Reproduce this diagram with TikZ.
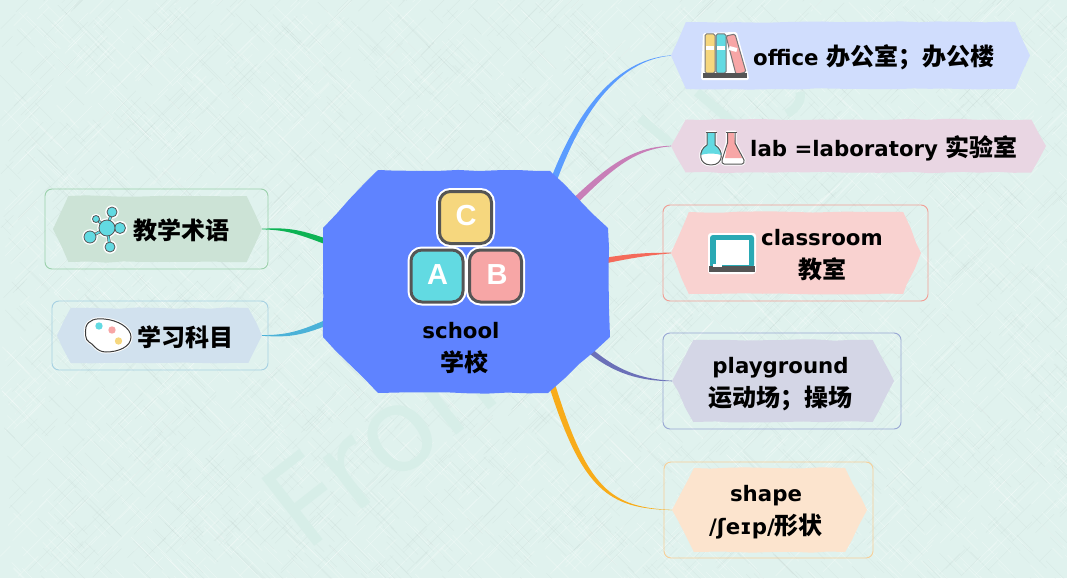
\documentclass[tikz,border=0pt]{standalone}
\usepackage{fontspec}
\setmainfont{DejaVu Sans}
\newfontfamily\cjk{Noto Sans CJK SC}
\newfontfamily\wmfont{Noto Sans}
\newfontfamily\blkfont{Liberation Sans}
\usetikzlibrary{calc,shapes.symbols,decorations.pathmorphing}
\pgfdeclarelayer{bg}\pgfdeclarelayer{links}\pgfsetlayers{bg,links,main}
\newcommand{\zh}[1]{{\cjk\fontsize{24}{33}\selectfont\bfseries #1}}
\definecolor{paper}{HTML}{E0F2EE}
\definecolor{mark}{HTML}{D7EEE8}
\definecolor{hubc}{HTML}{5F83FF}
\definecolor{icyan}{HTML}{62DAE2}
\definecolor{iyel}{HTML}{F6D77E}
\definecolor{ipink}{HTML}{F7A6A6}
\definecolor{idark}{HTML}{555555}
\definecolor{iteal}{HTML}{2AA9B4}
\definecolor{frclass}{HTML}{F58F85}
\definecolor{frplay}{HTML}{8C9AD0}
\definecolor{frshape}{HTML}{FBC98A}
\definecolor{frterm}{HTML}{8FCBA0}
\definecolor{frsubj}{HTML}{9DCBE0}
\definecolor{hxoffice}{HTML}{D0DDFD}
\definecolor{hxlab}{HTML}{E9D6E3}
\definecolor{hxclass}{HTML}{F9D2D0}
\definecolor{hxplay}{HTML}{D4D6E6}
\definecolor{hxshape}{HTML}{FCE4CE}
\definecolor{hxterm}{HTML}{CCE3D6}
\definecolor{hxsubj}{HTML}{D1E1EE}
\definecolor{lkoffice}{HTML}{5B9CFF}
\definecolor{lklab}{HTML}{C87FB8}
\definecolor{lkclass}{HTML}{F46A5A}
\definecolor{lkplay}{HTML}{6B70B8}
\definecolor{lkshape}{HTML}{F8AC1A}
\definecolor{lkterm}{HTML}{0CB354}
\definecolor{lksubj}{HTML}{4BB2D8}
\tikzset{
  wob/.style={decorate,decoration={random steps,segment length=17pt,amplitude=.7pt}},
  hex/.style n args={4}{signal,signal to=east and west,signal from=nowhere,signal pointer angle=#1,
     minimum width=#2,minimum height=#3,fill=#4,inner sep=0pt,outer sep=0pt,wob},
  frame/.style n args={3}{rectangle,draw=#3,line width=.9pt,rounded corners=7pt,minimum width=#1,
     minimum height=#2,inner sep=0pt,outer sep=0pt,opacity=.85},
  label/.style={font=\fontsize{21.3}{33}\selectfont\bfseries,inner sep=0pt,align=center,text=black},
  blocktx/.style={font=\blkfont\fontsize{29}{29}\selectfont\bfseries,text=white,inner sep=0pt},
  block/.style={rectangle,rounded corners=11pt,draw=idark,line width=3pt,fill=#1,minimum size=52pt,inner sep=0pt,
     preaction={draw=white,line width=7pt}},
  halo/.style={draw=white,line width=3pt,line join=round},
  ink/.style={draw=idark,line width=1pt,line join=round},
  markstroke/.style={draw=mark,line width=9pt}
}
% tapered connector: colour, start, control 1, control 2, end, half-width vector
\newcommand{\taper}[6]{%
  \fill[#1] ($(#2)+(#6)$) .. controls ($(#3)+0.8*(#6)$) and ($(#4)+0.4*(#6)$) .. ($(#5)+0.12*(#6)$)
     -- ($(#5)-0.12*(#6)$) .. controls ($(#4)-0.4*(#6)$) and ($(#3)-0.8*(#6)$) .. ($(#2)-(#6)$) -- cycle;}
\begin{document}
\begin{tikzpicture}[x=1pt,y=-1pt]
\useasboundingbox (0,0) rectangle (1067,578);
\begin{pgfonlayer}{bg}
\fill[paper] (0,0) rectangle (1067,578);
\begin{scope}
\clip (0,0) rectangle (1067,578);
\pgfmathsetseed{7}
\foreach \i in {1,...,1300}{
  \pgfmathsetmacro\px{rnd*1067}\pgfmathsetmacro\py{rnd*578}\pgfmathsetmacro\pl{8+rnd*24}
  \draw[white,opacity=.35,line width=.5pt] (\px,\py) -- ++(\pl,\pl);
  \pgfmathsetmacro\qx{rnd*1067}\pgfmathsetmacro\qy{rnd*578}\pgfmathsetmacro\ql{8+rnd*24}
  \draw[white,opacity=.35,line width=.5pt] (\qx,\qy) -- ++(\ql,-\ql);
  \pgfmathsetmacro\rx{rnd*1067}\pgfmathsetmacro\ry{rnd*578}\pgfmathsetmacro\rl{8+rnd*24}
  \draw[black!60!paper,opacity=.05,line width=.5pt] (\rx,\ry) -- ++(\rl,\rl);
  \pgfmathsetmacro\sx{rnd*1067}\pgfmathsetmacro\sy{rnd*578}\pgfmathsetmacro\sl{8+rnd*24}
  \draw[black!60!paper,opacity=.05,line width=.5pt] (\sx,\sy) -- ++(\sl,-\sl);
}
\end{scope}
\node[rotate=38,anchor=base west,inner sep=0pt,text=mark,font=\wmfont\fontsize{120}{120}\selectfont] (wm) at (305,554) {From};
\draw[markstroke] (697,92) -- (733,123);
\draw[markstroke] (640,118) -- (672,145);
\draw[markstroke] (800,92) .. controls (802,100) and (797,108) .. (787,114);
\end{pgfonlayer}

% frames
\node[frame={265pt}{96pt}{frclass}] (fclass) at (795.5,253) {};
\node[frame={238pt}{96pt}{frplay}] (fplay) at (782,381) {};
\node[frame={209pt}{96pt}{frshape}] (fshape) at (768.5,510) {};
\node[frame={223pt}{80pt}{frterm}] (fterm) at (156.5,229) {};
\node[frame={216pt}{69pt}{frsubj}] (fsubj) at (160,335.5) {};

% centre
\fill[hubc,decorate,decoration={random steps,segment length=20pt,amplitude=.8pt}]
  (378,170) -- (550,171) -- (608,228) -- (610,337) -- (548,393) -- (378,393) -- (323,337) -- (323,228) -- cycle;
\node[minimum width=287pt,minimum height=223pt,inner sep=0pt,outer sep=0pt] (hub) at (466.5,281.5) {};
\coordinate (hA) at (553,182);
\coordinate (hB) at (573,203);
\coordinate (hC) at (603,261);
\coordinate (hD) at (588,349);
\coordinate (hE) at (552,385);
\coordinate (hF) at (330,243);
\coordinate (hG) at (330,321);

% branches
\node[hex={132}{359pt}{67pt}{hxoffice}] (office) at (850.5,55.5) {};
\node[hex={122}{375pt}{53pt}{hxlab}] (lab) at (858.5,146) {};
\node[hex={133}{250pt}{82pt}{hxclass}] (class) at (796,253) {};
\node[hex={125}{222pt}{82pt}{hxplay}] (play) at (783,381) {};
\node[hex={125}{195pt}{84pt}{hxshape}] (shape) at (769.5,510) {};
\node[hex={130}{209pt}{66pt}{hxterm}] (term) at (157.5,229) {};
\node[hex={127}{205pt}{55pt}{hxsubj}] (subj) at (159.5,335.5) {};

% connectors
\begin{pgfonlayer}{links}
\taper{lkoffice}{hA}{578,115}{615,60}{office.west}{3,1}
\taper{lklab}{hB}{612,165}{635,148}{lab.west}{2.2,2.4}
\taper{lkclass}{hC}{635,255}{650,254}{class.west}{.4,2.8}
\taper{lkplay}{hD}{615,372}{640,380}{play.west}{-1.6,2.2}
\taper{lkshape}{hE}{585,490}{610,508}{shape.west}{3,-1}
\taper{lkterm}{hF}{295,230}{285,229}{term.east}{.8,-2.8}
\taper{lksubj}{hG}{298,335}{285,336}{subj.east}{.8,2.8}
\end{pgfonlayer}

% centre icon
\node[block=iyel] (bc) at (465.5,217.5) {};
\node[block=icyan] (ba) at (437,276) {};
\node[block=ipink] (bb) at (495.5,276) {};
\node[blocktx] (tc) at (466,216) {C};
\node[blocktx] (ta) at (437.5,275) {A};
\node[blocktx] (tb) at (497,275) {B};

% texts
\node[label] (thub) at (461,348) {school\\\hspace*{6pt}\zh{学校}};
\node[label,anchor=west] (toffice) at (753,57) {office \zh{办公室；办公楼}};
\node[label,anchor=west] (tlab) at (750,148) {lab =laboratory \zh{实验室}};
\node[label] (tclass) at (822,255) {classroom\\\zh{教室}};
\node[label] (tplay) at (780.5,384) {playground\\\zh{运动场；操场}};
\node[label] (tshape) at (766,512) {shape\\/ʃeɪp/\zh{形状}};
\node[label,anchor=west] (tterm) at (133,230) {\zh{教学术语}};
\node[label,anchor=west] (tsubj) at (137,337) {\zh{学习科目}};

% books
\path[fill=white,draw=white,line width=2pt,rounded corners=1pt] (704,34) -- (736,33) -- (747,73) -- (748,79) -- (702,79) -- cycle;
\draw[fill=iyel,line width=1pt,draw=idark!80,rounded corners=1.5pt] (705,73) -- (705,34) -- (715,34) -- (715,73) -- cycle;
\draw[fill=icyan,line width=1pt,draw=idark!80,rounded corners=1.5pt] (716,73) -- (716,34) -- (726,34) -- (726,73) -- cycle;
\draw[fill=ipink,line width=1pt,draw=idark!80,rounded corners=1.5pt] (726,36) -- (735,34) -- (746,72) -- (736,74.5) -- cycle;
\fill[white] (706,46) rectangle (714,50);
\fill[white] (717,46) rectangle (725,50);
\fill[white,rotate around={-15:(733,49)}] (729,47) rectangle (737,51);
\fill[idark] (703,73) rectangle (747,78);

% flasks
\path[halo,fill=white] (707,132) -- (715,132) -- (715,145) .. controls (724,150) and (724,165) .. (711,165) .. controls (698,165) and (698,150) .. (707,145) -- cycle;
\path[halo,fill=white] (727,132) -- (735,132) -- (735,143) -- (744,160) .. controls (744.5,162) and (744,164) .. (742,164) -- (724,164) .. controls (722,164) and (721.5,162) .. (722,160) -- (727,143) -- cycle;
\fill[icyan] (707,132) -- (715,132) -- (715,145) .. controls (719,147) and (722,152) .. (721.5,155) .. controls (715,153) and (707,153) .. (700.5,155) .. controls (700,152) and (703,147) .. (707,145) -- cycle;
\fill[ipink] (728,133) -- (734,133) -- (735,143) -- (742,158) -- (725,158) -- (727.5,143) -- cycle;
\draw[ink] (707,133) -- (707,145) .. controls (698,150) and (698,165) .. (711,165) .. controls (724,165) and (724,150) .. (715,145) -- (715,133);
\draw[ink] (705.5,132.5) -- (716.5,132.5);
\draw[ink] (727.5,133) -- (727.5,143) -- (722,160) .. controls (721.5,162) and (722,164) .. (724,164) -- (742,164) .. controls (744,164) and (744.5,162) .. (744,160) -- (735,143) -- (735,133);
\draw[ink] (726,132.5) -- (736.5,132.5);

% board
\fill[white,rounded corners=3pt] (708,233) rectangle (756,274);
\fill[iteal,rounded corners=3pt] (710,235) rectangle (754,268);
\fill[white] (716,240) rectangle (749,265);
\fill[idark] (709,266) rectangle (754.5,272);
\fill[white] (713,264) rectangle (722,267);

% network
\foreach \a/\b/\r in {112/212/5,96/219/3.5,90/237/6,120/228/5.5,110/247/5,107/228/8}{
  \fill[white] (\a,\b) circle[radius=\r+1.8];}
\draw[white,line width=4.5pt] (107,228)--(112,212) (107,228)--(96,219) (107,228)--(90,237) (107,228)--(120,228) (107,228)--(110,247);
\draw[idark,line width=3pt] (107,228)--(112,212) (107,228)--(96,219) (107,228)--(90,237) (107,228)--(120,228) (107,228)--(110,247);
\draw[icyan,line width=1.8pt] (107,228)--(112,212) (107,228)--(96,219) (107,228)--(90,237) (107,228)--(120,228) (107,228)--(110,247);
\foreach \a/\b/\r in {112/212/5,96/219/3.5,90/237/6,120/228/5.5,110/247/5,107/228/8}{
  \draw[fill=icyan,draw=idark,line width=.8pt] (\a,\b) circle[radius=\r];}

% palette
\draw[fill=white,draw=idark!70!black,line width=1pt,preaction={draw=white,line width=3pt}]
  (104,319) .. controls (118,320) and (131,328) .. (131,337)
  .. controls (131,347) and (118,352) .. (106,352)
  .. controls (96,352) and (93,343) .. (89,342)
  .. controls (85,340) and (85,332) .. (86,327)
  .. controls (88,320) and (96,318) .. (104,319) -- cycle;
\fill[icyan] (99,326) circle[radius=3.7];
\fill[ipink] (112,330) circle[radius=3.7];
\fill[iyel] (118.5,341) circle[radius=3.7];
\end{tikzpicture}
\end{document}
